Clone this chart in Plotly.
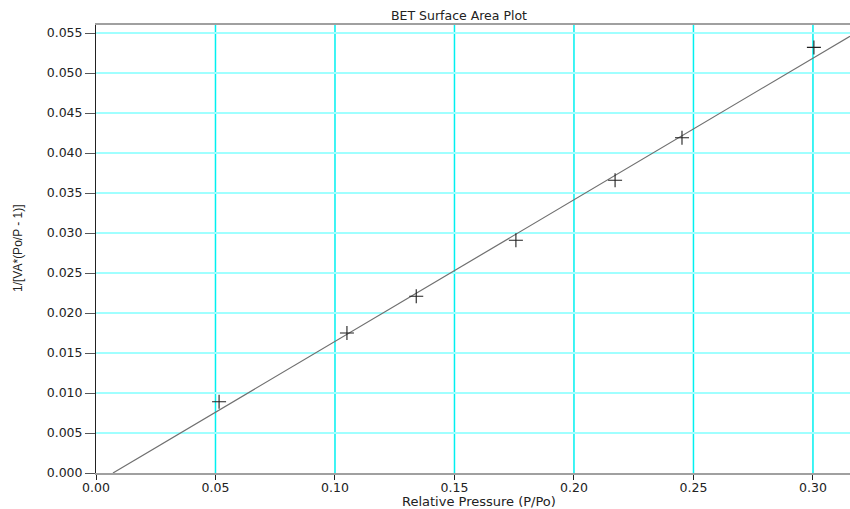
import plotly.graph_objects as go

# Data
rel_pressure = [0.0515, 0.105, 0.134, 0.1757, 0.2172, 0.2452, 0.3004]
bet_value = [0.0089, 0.0175, 0.0221, 0.0291, 0.0366, 0.0419, 0.0532]

# fitted line end points
fit_x = [0.0071, 0.3155]
fit_y = [0.0, 0.0546]

x_ticks = [0.00, 0.05, 0.10, 0.15, 0.20, 0.25, 0.30]
y_ticks = [0.000, 0.005, 0.010, 0.015, 0.020, 0.025, 0.030, 0.035, 0.040, 0.045, 0.050, 0.055]

font_main = "DejaVu Sans, Liberation Sans, sans-serif"
txt_color = "#222222"

W, H = 850, 509
L, R, T, B = 96, 0, 25, 36

fig = go.Figure()

# vertical grid lines (stronger cyan)
for xv in x_ticks[1:]:
    fig.add_shape(type="line", xref="x", yref="paper", x0=xv, x1=xv, y0=0, y1=1,
                  line=dict(color="#00f0f0", width=1.5), layer="below")

fig.add_trace(go.Scatter(x=fit_x, y=fit_y, mode="lines",
                         line=dict(color="#707070", width=1.2), showlegend=False,
                         hoverinfo="skip"))
fig.add_trace(go.Scatter(x=rel_pressure, y=bet_value, mode="markers",
                         marker=dict(symbol="cross-thin", size=10,
                                     line=dict(color="#202020", width=1.1)),
                         showlegend=False))

fig.update_layout(
    width=W, height=H,
    margin=dict(l=L, r=R, t=T, b=B, autoexpand=False),
    paper_bgcolor="white", plot_bgcolor="white",
    font=dict(family=font_main, color=txt_color),
    annotations=[
        dict(text="BET Surface Area Plot", x=459, y=16, xref="paper", yref="paper",
             showarrow=False, font=dict(size=12.5, family=font_main, color=txt_color)),
        dict(text="Relative Pressure (P/Po)", x=479, y=501, xref="paper", yref="paper",
             showarrow=False, font=dict(size=13, family=font_main, color=txt_color)),
        dict(text="1/[VA*(Po/P - 1)]", x=18, y=248, xref="paper", yref="paper", textangle=-90,
             showarrow=False,
             font=dict(size=12, family="Liberation Sans Narrow, Liberation Sans, sans-serif",
                       color=txt_color)),
    ],
)

# convert page-pixel annotation positions to paper coordinates
pw, ph = W - L - R, H - T - B
for ann in fig.layout.annotations:
    px, py = ann.x, ann.y
    ann.x = (px - L) / pw
    ann.y = 1 - (py - T) / ph
    ann.xanchor = "center"
    ann.yanchor = "middle"

fig.update_xaxes(
    range=[0, 0.3155], tickvals=x_ticks, ticktext=[f"{v:.2f}" for v in x_ticks],
    showgrid=False, zeroline=False, automargin=False,
    showline=True, linecolor="#a0a0a0", linewidth=2, mirror=True,
    ticks="outside", ticklen=5, tickcolor="#222222", tickwidth=1,
    ticklabelstandoff=-3,
    tickfont=dict(size=12.5, family=font_main, color=txt_color),
)
fig.update_yaxes(
    range=[0, 0.056], tickvals=y_ticks, ticktext=[f"{v:.3f}" for v in y_ticks],
    showgrid=True, gridcolor="#a0ffff", gridwidth=1.5, zeroline=False, automargin=False,
    showline=True, linecolor="#222222", linewidth=1,
    ticks="outside", ticklen=10, tickcolor="#555555", tickwidth=1,
    tickfont=dict(size=12.5, family=font_main, color=txt_color),
)

fig.write_html("out.html", config={"displayModeBar": False},
               post_script="document.body.style.margin='0';document.body.style.overflow='hidden';")
